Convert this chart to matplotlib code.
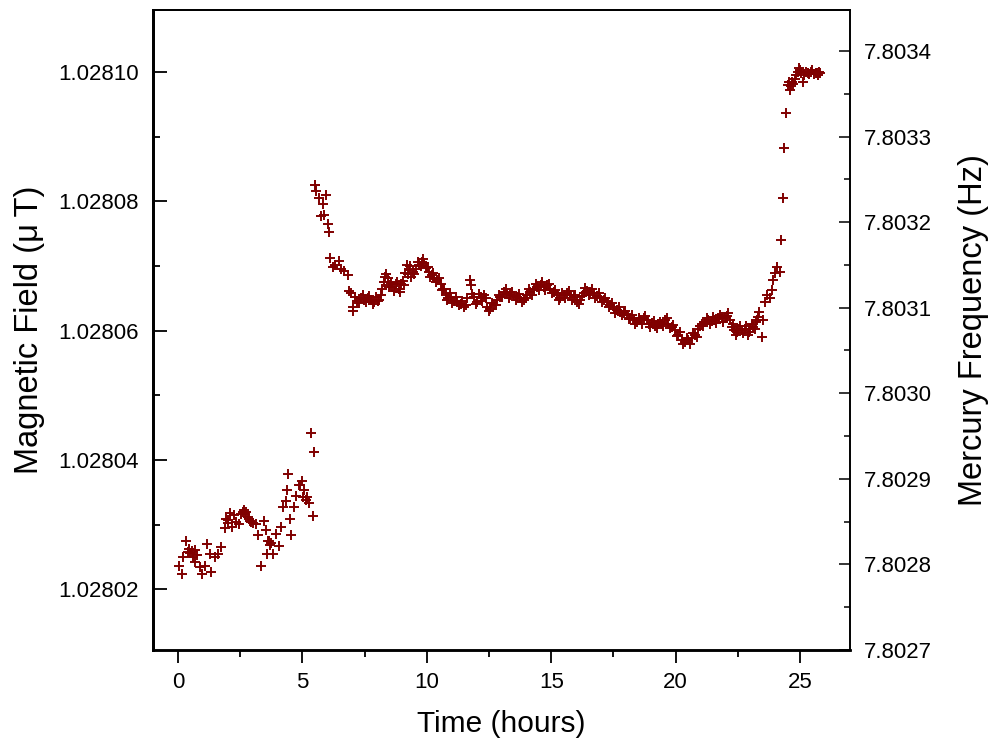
import matplotlib
matplotlib.use('Agg')
import matplotlib.pyplot as plt
from matplotlib.ticker import MultipleLocator, FormatStrFormatter

# ---- data ----
time_h = [
    0.05, 0.15, 0.20, 0.32, 0.41, 0.45, 0.50, 0.55, 0.61, 0.67, 0.70, 0.75, 0.88, 0.99,
    1.08, 1.17, 1.28, 1.35, 1.48, 1.62, 1.75, 1.88, 1.95, 2.00, 2.02, 2.08, 2.19, 2.25,
    2.32, 2.44, 2.54, 2.60, 2.64, 2.68, 2.72, 2.81, 2.85, 2.91, 2.95, 3.01, 3.12, 3.22,
    3.35, 3.45, 3.53, 3.58, 3.62, 3.68, 3.70, 3.75, 3.82, 3.93, 4.06, 4.13, 4.22, 4.33,
    4.38, 4.42, 4.49, 4.55, 4.65, 4.75, 4.86, 4.92, 4.99, 5.02, 5.08, 5.15, 5.20, 5.26,
    5.35, 5.42, 5.45,
    5.49, 5.56, 5.66, 5.76, 5.82, 5.89, 5.96, 6.02, 6.09, 6.13, 6.22, 6.33, 6.46, 6.55,
    6.69, 6.82, 6.89, 6.96, 7.02, 7.05, 7.18, 7.35, 7.49, 7.62, 7.76, 7.89, 8.03, 8.16,
    8.22, 8.33, 8.43, 8.52, 8.62, 8.76, 8.87, 8.96, 9.09, 9.19, 9.29, 9.36, 9.43, 9.56,
    9.70, 9.80, 9.90, 9.99, 10.10, 10.20, 10.30, 10.43, 10.56, 10.66, 10.76, 10.87, 10.96,
    11.10, 11.23, 11.36, 11.49, 11.63, 11.72, 11.76, 11.90,
    12.03, 12.16, 12.30, 12.43, 12.56, 12.70, 12.83, 12.96, 13.10, 13.23, 13.36, 13.50,
    13.63, 13.76, 13.90, 14.03, 14.16, 14.30, 14.44, 14.57, 14.70, 14.84, 14.97, 15.10,
    15.24, 15.37, 15.50, 15.64, 15.77, 15.91, 16.04, 16.17, 16.31, 16.44, 16.57, 16.71,
    16.84, 16.97, 17.11, 17.24, 17.38, 17.51, 17.64, 17.78, 17.91, 18.04, 18.18, 18.31,
    18.44, 18.57, 18.71, 18.84, 18.91, 19.04, 19.18, 19.31, 19.44, 19.58, 19.71, 19.84,
    19.98, 20.11, 20.24, 20.38, 20.51, 20.64, 20.77, 20.91, 21.04, 21.18, 21.31, 21.45,
    21.58, 21.71, 21.85, 21.98, 22.12, 22.18, 22.25, 22.36, 22.41, 22.52, 22.65, 22.78,
    22.89, 22.98, 23.12, 23.21, 23.29, 23.35, 23.45, 23.52, 23.59, 23.65, 23.79, 23.85,
    23.92, 24.01, 24.09, 24.18, 24.25, 24.33, 24.37, 24.43,
    24.52, 24.55, 24.58, 24.62, 24.67, 24.72, 24.78, 24.84, 24.90, 24.94, 25.00, 25.03,
    25.10, 25.17, 25.22, 25.30, 25.36, 25.43, 25.48, 25.54, 25.63, 25.68, 25.72, 25.76,
    25.80,
]

field_uT = [
    1.0280236, 1.0280223, 1.0280250, 1.0280275, 1.0280258, 1.0280263, 1.0280256, 1.0280259,
    1.0280250, 1.0280242, 1.0280260, 1.0280253, 1.0280235, 1.0280223,
    1.0280236, 1.0280270, 1.0280255, 1.0280227, 1.0280250, 1.0280255, 1.0280265, 1.0280295,
    1.0280308, 1.0280302, 1.0280307, 1.0280318, 1.0280296, 1.0280315,
    1.0280304, 1.0280301, 1.0280317, 1.0280319, 1.0280323, 1.0280316, 1.0280320, 1.0280312,
    1.0280308, 1.0280306, 1.0280304, 1.0280302, 1.0280301, 1.0280284,
    1.0280236, 1.0280306, 1.0280291, 1.0280254, 1.0280275, 1.0280274, 1.0280268, 1.0280271,
    1.0280254, 1.0280285, 1.0280267, 1.0280297, 1.0280328, 1.0280337,
    1.0280354, 1.0280378, 1.0280309, 1.0280284, 1.0280328, 1.0280345, 1.0280362, 1.0280362,
    1.0280367, 1.0280343, 1.0280353, 1.0280338, 1.0280342, 1.0280333,
    1.0280442, 1.0280313, 1.0280412,
    1.0280825, 1.0280816, 1.0280805, 1.0280778, 1.0280796, 1.0280779, 1.0280810, 1.0280765,
    1.0280753, 1.0280713, 1.0280699, 1.0280701, 1.0280708, 1.0280696,
    1.0280693, 1.0280686, 1.0280662, 1.0280658, 1.0280631, 1.0280637, 1.0280646, 1.0280650,
    1.0280648, 1.0280651, 1.0280647, 1.0280645, 1.0280646, 1.0280655,
    1.0280664, 1.0280683, 1.0280682, 1.0280670, 1.0280667, 1.0280673, 1.0280664, 1.0280672,
    1.0280670, 1.0280701, 1.0280694, 1.0280683, 1.0280691, 1.0280695,
    1.0280701, 1.0280707, 1.0280704, 1.0280698, 1.0280691, 1.0280686, 1.0280682, 1.0280678,
    1.0280672, 1.0280664, 1.0280655, 1.0280650, 1.0280652,
    1.0280646, 1.0280645, 1.0280642, 1.0280636, 1.0280650, 1.0280679, 1.0280670, 1.0280652,
    1.0280645, 1.0280652, 1.0280655, 1.0280637, 1.0280634, 1.0280640, 1.0280647, 1.0280652,
    1.0280660, 1.0280657, 1.0280655, 1.0280653,
    1.0280652, 1.0280650, 1.0280648, 1.0280655, 1.0280660, 1.0280664, 1.0280668, 1.0280670,
    1.0280668, 1.0280670, 1.0280665, 1.0280660,
    1.0280655, 1.0280650, 1.0280655, 1.0280658, 1.0280655, 1.0280652, 1.0280645, 1.0280647,
    1.0280658, 1.0280662, 1.0280660, 1.0280658,
    1.0280653, 1.0280652, 1.0280647, 1.0280645, 1.0280640, 1.0280634, 1.0280632, 1.0280629,
    1.0280627, 1.0280624, 1.0280619, 1.0280616,
    1.0280614, 1.0280616, 1.0280619, 1.0280616, 1.0280611, 1.0280612, 1.0280608, 1.0280610,
    1.0280611, 1.0280616, 1.0280610, 1.0280606,
    1.0280601, 1.0280593, 1.0280585, 1.0280583, 1.0280585, 1.0280588, 1.0280593, 1.0280602,
    1.0280611, 1.0280614, 1.0280616, 1.0280615,
    1.0280617, 1.0280619, 1.0280621, 1.0280620, 1.0280627, 1.0280616, 1.0280606, 1.0280601,
    1.0280593, 1.0280603, 1.0280601, 1.0280602,
    1.0280593, 1.0280603, 1.0280606, 1.0280614, 1.0280621, 1.0280629, 1.0280590, 1.0280616,
    1.0280645, 1.0280655, 1.0280650, 1.0280663,
    1.0280679, 1.0280689, 1.0280698, 1.0280691, 1.0280741, 1.0280806, 1.0280882, 1.0280937,
    1.0280980, 1.0280985, 1.0280973, 1.0280978, 1.0280985, 1.0280981, 1.0280990, 1.0280995,
    1.0281000, 1.0281006, 1.0281003, 1.0280998,
    1.0280985, 1.0280995, 1.0281000, 1.0280998, 1.0280997, 1.0281001, 1.0281003, 1.0280997,
    1.0280999, 1.0280998, 1.0280995, 1.0281000,
    1.0280998,
]

# further samples inside the dense 7-23 h band
time_h_band = [
    7.12, 7.27, 7.42, 7.56, 7.69, 7.83, 7.96, 8.10, 8.28, 8.38, 8.48, 8.57, 8.69, 8.82,
    8.92, 9.03, 9.14, 9.24, 9.33, 9.49, 9.63, 9.75, 9.85, 9.95, 10.05, 10.15, 10.25, 10.37,
    10.50, 10.61, 10.71, 10.82, 10.92, 11.03, 11.17, 11.30, 11.43, 11.56, 11.83, 11.97,
    12.10, 12.23, 12.37, 12.50, 12.63, 12.77, 12.90, 13.03, 13.17, 13.30, 13.43, 13.57,
    13.70, 13.83, 13.97, 14.10, 14.23, 14.37, 14.50, 14.64, 14.77, 14.90, 15.04, 15.17,
    15.30, 15.44, 15.57, 15.70, 15.84, 15.97, 16.11, 16.24, 16.37, 16.51, 16.64, 16.77,
    16.91, 17.04, 17.17, 17.31, 17.44, 17.57, 17.71, 17.84, 17.97, 18.11, 18.24, 18.37,
    18.51, 18.64, 18.77, 18.97, 19.11, 19.24, 19.37, 19.51, 19.64, 19.77, 19.91, 20.04,
    20.17, 20.31, 20.44, 20.57, 20.71, 20.84, 20.97, 21.11, 21.24, 21.38, 21.51, 21.64,
    21.78, 21.92, 22.05, 22.30, 22.46, 22.58, 22.71, 22.84, 22.94, 23.05, 23.17, 23.25,
]
field_uT_band = [
    1.0280652, 1.0280643, 1.0280655, 1.0280644, 1.0280653, 1.0280641, 1.0280652, 1.0280648,
    1.0280676, 1.0280688, 1.0280668, 1.0280674, 1.0280662, 1.0280676,
    1.0280660, 1.0280677, 1.0280690, 1.0280688, 1.0280700, 1.0280687, 1.0280706, 1.0280700,
    1.0280711, 1.0280697, 1.0280699, 1.0280683, 1.0280689, 1.0280676,
    1.0280681, 1.0280663, 1.0280665, 1.0280648, 1.0280658, 1.0280643, 1.0280652, 1.0280640,
    1.0280646, 1.0280640, 1.0280657, 1.0280641,
    1.0280657, 1.0280646, 1.0280650, 1.0280630, 1.0280643, 1.0280640, 1.0280655, 1.0280652,
    1.0280664, 1.0280650, 1.0280660, 1.0280647,
    1.0280657, 1.0280645, 1.0280651, 1.0280664, 1.0280656, 1.0280672, 1.0280663, 1.0280675,
    1.0280663, 1.0280673, 1.0280659, 1.0280663,
    1.0280648, 1.0280659, 1.0280651, 1.0280662, 1.0280648, 1.0280656, 1.0280641, 1.0280654,
    1.0280666, 1.0280655, 1.0280664, 1.0280651,
    1.0280658, 1.0280644, 1.0280651, 1.0280637, 1.0280643, 1.0280627, 1.0280636, 1.0280624,
    1.0280631, 1.0280618, 1.0280624, 1.0280610,
    1.0280620, 1.0280611, 1.0280622, 1.0280606, 1.0280615, 1.0280604, 1.0280614, 1.0280608,
    1.0280620, 1.0280604, 1.0280609, 1.0280592,
    1.0280598, 1.0280579, 1.0280589, 1.0280580, 1.0280597, 1.0280590, 1.0280608, 1.0280608,
    1.0280620, 1.0280610, 1.0280621, 1.0280612,
    1.0280625, 1.0280614, 1.0280622, 1.0280610, 1.0280598, 1.0280608, 1.0280596, 1.0280607,
    1.0280598, 1.0280610, 1.0280602, 1.0280617,
]

field_ticks = [1.02802, 1.02804, 1.02806, 1.02808, 1.02810]
freq_ticks = [7.8027, 7.8028, 7.8029, 7.8030, 7.8031, 7.8032, 7.8033, 7.8034]
time_ticks = [0, 5, 10, 15, 20, 25]

plt.rcParams['font.family'] = ['Liberation Sans', 'DejaVu Sans']

fig = plt.figure(figsize=(9.9, 7.43), dpi=100)
ax = fig.add_axes([0.1545, 0.1252, 0.7040, 0.8620])
mark = dict(linestyle='none', marker='+', ms=7.5, mew=1.4, color='#800000')
ax.plot(time_h, field_uT, **mark)
ax.plot(time_h_band, field_uT_band, **mark)

ax.set_xlim(-1.0, 27.0)
ax.set_ylim(1.0280106, 1.0281097)
ax.set_xticks(time_ticks)
ax.xaxis.set_minor_locator(MultipleLocator(2.5))
ax.set_yticks(field_ticks)
ax.yaxis.set_minor_locator(MultipleLocator(0.00001))
ax.yaxis.set_major_formatter(FormatStrFormatter('%.5f'))

ax.tick_params(axis='y', which='major', direction='in', length=10, width=1.3,
               labelsize=16, pad=10)
ax.tick_params(axis='y', which='minor', direction='in', length=5, width=1.3)
ax.tick_params(axis='x', which='major', direction='out', length=9, width=1.3,
               labelsize=16, pad=7)
ax.tick_params(axis='x', which='minor', direction='out', length=5, width=1.3)

ax2 = ax.twinx()
ax2.set_ylim(7.8027, 7.8034485)
ax2.set_yticks(freq_ticks)
ax2.yaxis.set_minor_locator(MultipleLocator(0.00005))
ax2.yaxis.set_major_formatter(FormatStrFormatter('%.4f'))
ax2.tick_params(axis='y', which='major', direction='in', length=8, width=1.1,
                labelsize=16, pad=10)
ax2.tick_params(axis='y', which='minor', direction='in', length=4, width=1.1)

for a in (ax, ax2):
    a.spines['left'].set_linewidth(2.0)
    a.spines['bottom'].set_linewidth(1.8)
    a.spines['top'].set_linewidth(1.3)
    a.spines['right'].set_linewidth(1.2)

ax.set_xlabel('Time (hours)', fontsize=21.5, labelpad=12)
ax.set_ylabel('Magnetic Field (\u03bc\u2009T)', fontsize=23.5, labelpad=10)
ax2.set_ylabel('Mercury Frequency (Hz)', fontsize=23.5, rotation=90, labelpad=19)

fig.savefig('out.png', dpi=100)
